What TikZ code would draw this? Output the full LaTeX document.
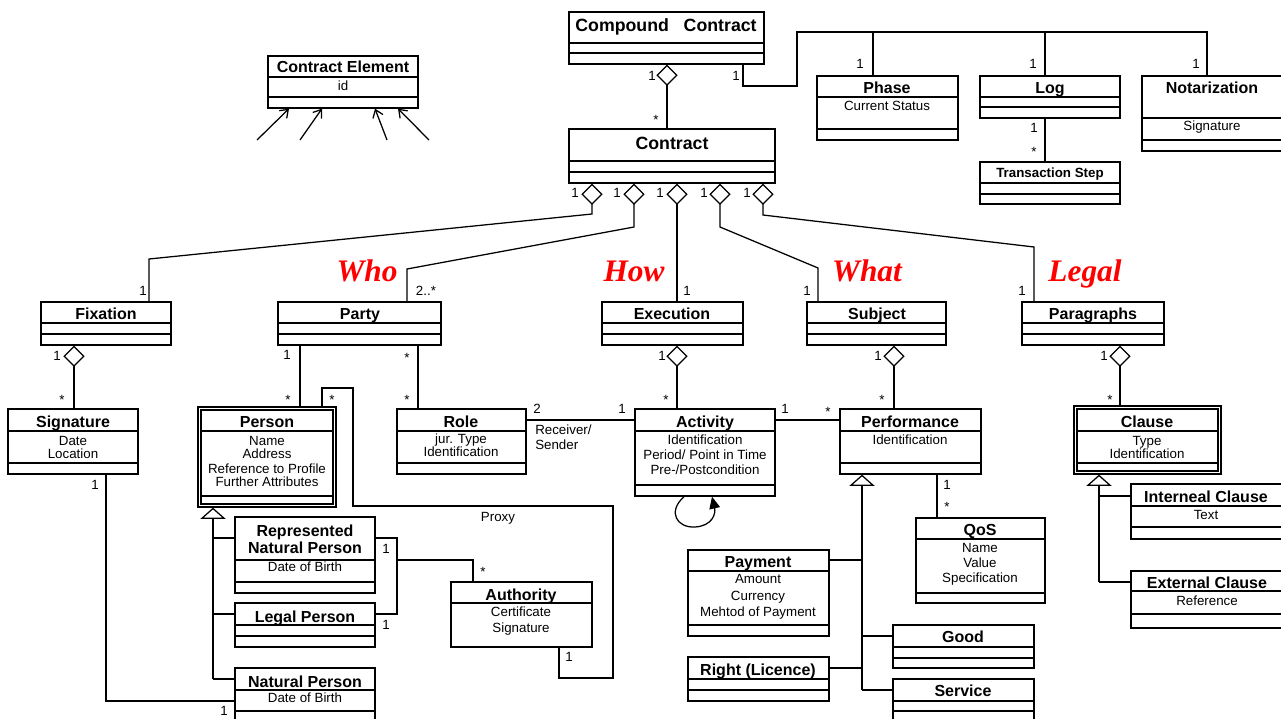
\documentclass[tikz,border=0pt]{standalone}
\usepackage{fontspec}
\setmainfont{Liberation Sans}
\newfontfamily\tms{Liberation Serif}
\usetikzlibrary{fit,arrows.meta}
\tikzset{
  ln/.style={line width=0.95pt},
  box/.style={draw, line width=0.95pt, inner sep=0pt},
  ttl/.style={font=\fontsize{12}{14}\selectfont\bfseries, anchor=base, yshift=-4.3pt, inner sep=0pt},
  bigttl/.style={font=\fontsize{13.3}{15}\selectfont\bfseries, anchor=base, yshift=-4.8pt, inner sep=0pt},
  smttl/.style={font=\fontsize{10}{12}\selectfont\bfseries, anchor=base, yshift=-3.6pt, inner sep=0pt},
  att/.style={font=\fontsize{10}{12}\selectfont, anchor=base, yshift=-3.6pt, inner sep=0pt},
  st/.style={font=\fontsize{10}{12}\selectfont, anchor=base, yshift=-5.8pt, inner sep=0pt},
  red/.style={font=\fontsize{23.5}{26}\selectfont\tms\bfseries\itshape, text=red, anchor=base, inner sep=0pt},
  agg/.style={ln, {Diamond[open, length=16pt, width=16pt]}-},
  gen/.style={ln, -{Triangle[open, length=8.5pt, width=19pt]}},
  dep/.style={ln, -{Straight Barb[length=5.5pt, width=8pt]}},
  loopar/.style={ln, -{Triangle[length=9pt, width=8pt]}}
}
\newcommand\klass[6]{%
  \node[box, fit={(#2,#3) (#4,#5)}] (#1) {};
  \foreach \dv in {#6}{\draw[ln] (#2,\dv) -- (#4,\dv);}}
\begin{document}
\begin{tikzpicture}[x=0.75pt, y=-0.75pt]
\useasboundingbox (0,0) rectangle (1281,718);
\fill[white] (0,0) rectangle (1281,718);
\clip (0,0) rectangle (1281,718);

% ---------- boxes ----------
\klass{cc}{569}{12}{764}{64}{43,53}
\node[bigttl] at (666,25) {Compound\ \ \ Contract};

\klass{ce}{268}{56}{418}{108}{77,97}
\node[ttl] at (343,67) {Contract Element};
\node[att] at (343,86) {id};

\klass{con}{569}{129}{775}{183}{161,172}
\node[bigttl] at (672,143) {Contract};

\klass{phase}{817}{76}{958}{140}{97,129}
\node[ttl] at (887,88) {Phase};
\node[att] at (887,106) {Current Status};

\klass{log}{980}{76}{1120}{118}{97,107}
\node[ttl] at (1050,88) {Log};

\klass{nota}{1142}{76}{1284}{151}{118,140}
\node[ttl] at (1212,88) {Notarization};
\node[att] at (1212,126) {Signature};

\klass{ts}{980}{162}{1120}{204}{183,194}
\node[smttl] at (1050,173) {Transaction Step};

\klass{fix}{41}{302}{171}{345}{323,334}
\node[ttl] at (106,314) {Fixation};
\klass{party}{278}{302}{441}{345}{323,334}
\node[ttl] at (360,314) {Party};
\klass{exec}{602}{302}{743}{345}{323,334}
\node[ttl] at (672,314) {Execution};
\klass{subj}{807}{302}{946}{345}{323,334}
\node[ttl] at (877,314) {Subject};
\klass{para}{1022}{302}{1164}{345}{323,334}
\node[ttl] at (1093,314) {Paragraphs};

\klass{sig}{8}{409}{138}{474}{431,463}
\node[ttl] at (73,422) {Signature};
\node[att] at (73,441) {Date};
\node[att] at (73,454) {Location};

\node[box, fit={(198,407) (336,507)}] (person) {};
\draw[ln] (201,410) rectangle (333,504);
\draw[ln] (201,431) -- (333,431);
\draw[ln] (201,496) -- (333,496);
\node[ttl] at (267,422) {Person};
\node[att] at (267,441) {Name};
\node[att] at (267,454) {Address};
\node[att] at (267,469) {Reference to Profile};
\node[att] at (267,482) {Further Attributes};

\klass{role}{397}{409}{526}{474}{431,463}
\node[ttl] at (461,422) {Role};
\node[att] at (461,439) {jur. Type};
\node[att] at (461,452) {Identification};

\klass{act}{635}{409}{775}{496}{431,485}
\node[ttl] at (705,422) {Activity};
\node[att] at (705,440) {Identification};
\node[att] at (705,455) {Period/ Point in Time};
\node[att] at (705,470) {Pre-/Postcondition};

\klass{perf}{840}{409}{981}{474}{431,463}
\node[ttl] at (910,422) {Performance};
\node[att] at (910,440) {Identification};

\node[box, fit={(1074,406) (1221,474)}] (clause) {};
\draw[ln] (1077,409) rectangle (1218,471);
\draw[ln] (1077,431) -- (1218,431);
\draw[ln] (1077,463) -- (1218,463);
\node[ttl] at (1147,422) {Clause};
\node[att] at (1147,441) {Type};
\node[att] at (1147,454) {Identification};

\klass{intc}{1131}{484}{1284}{539}{506,527}
\node[ttl] at (1206,497) {Interneal Clause};
\node[att] at (1206,515) {Text};
\klass{extc}{1131}{571}{1284}{628}{591,614}
\node[ttl] at (1207,583) {External Clause};
\node[att] at (1207,601) {Reference};

\klass{rnp}{235}{517}{375}{593}{560,582}
\node[ttl] at (305,531) {Represented};
\node[ttl] at (305,548) {Natural Person};
\node[att] at (305,567) {Date of Birth};
\klass{lp}{235}{603}{375}{647}{625,636}
\node[ttl] at (305,617) {Legal Person};
\klass{np}{235}{668}{375}{728}{690,711}
\node[ttl] at (305,682) {Natural Person};
\node[att] at (305,698) {Date of Birth};

\klass{auth}{451}{582}{592}{647}{603}
\node[ttl] at (521,595) {Authority};
\node[att] at (521,612) {Certificate};
\node[att] at (521,628) {Signature};

\klass{qos}{916}{518}{1045}{603}{539,593}
\node[ttl] at (980,530) {QoS};
\node[att] at (980,548) {Name};
\node[att] at (980,563) {Value};
\node[att] at (980,578) {Specification};

\klass{pay}{688}{550}{829}{636}{571,625}
\node[ttl] at (758,562) {Payment};
\node[att] at (758,579) {Amount};
\node[att] at (758,596) {Currency};
\node[att] at (758,612) {Mehtod of Payment};

\klass{good}{893}{625}{1034}{668}{647,658}
\node[ttl] at (963,637) {Good};
\klass{right}{688}{657}{829}{701}{679,690}
\node[ttl] at (758,670) {Right (Licence)};
\klass{serv}{893}{679}{1034}{728}{701,711}
\node[ttl] at (963,691) {Service};

% ---------- red labels ----------
\node[red] (who) at (367,281) {Who};
\node[red] (how) at (634,281) {How};
\node[red] (what) at (867,281) {What};
\node[red] (legal) at (1085,281) {Legal};

% ---------- connectors ----------
% Contract Element dependencies
\draw[dep] (257,140) -- (ce.south -| 289,0);
\draw[dep] (300,140) -- (ce.south -| 322,0);
\draw[dep] (387,140) -- (ce.south -| 375,0);
\draw[dep] (429,140) -- (ce.south -| 398,0);

% Compound contract
\draw[agg] (cc.south -| 667,0) -- (con.north -| 667,0);
\node[att] at (652,76) {1};
\node[st] at (656,117) {*};
\draw[ln] (cc.south -| 743,0) -- (743,86) -- (797,86) -- (797,32) -- (1207,32) -- (nota.north -| 1207,0);
\draw[ln] (873,32) -- (phase.north -| 873,0);
\draw[ln] (1045,32) -- (log.north -| 1045,0);
\node[att] at (736,76) {1};
\node[att] at (860,64) {1};
\node[att] at (1033,64) {1};
\node[att] at (1196,64) {1};
\draw[ln] (log.south -| 1045,0) -- (ts.north -| 1045,0);
\node[att] at (1034,128) {1};
\node[st] at (1034,149) {*};

% Contract aggregations
\draw[agg] (con.south -| 592,0) -- (592,214) -- (149,259) -- (fix.north -| 149,0);
\draw[agg] (con.south -| 634,0) -- (634,227) -- (407,269) -- (party.north -| 407,0);
\draw[agg] (con.south -| 677,0) -- (exec.north -| 677,0);
\draw[agg] (con.south -| 720,0) -- (720,227) -- (818,268) -- (subj.north -| 818,0);
\draw[agg] (con.south -| 763,0) -- (763,215) -- (1034,247) -- (para.north -| 1034,0);
\node[att] at (575,193) {1};
\node[att] at (617,193) {1};
\node[att] at (660,193) {1};
\node[att] at (704,193) {1};
\node[att] at (747,193) {1};
\node[att] at (143,291) {1};
\node[att] at (426,291) {2..*};
\node[att] at (687,291) {1};
\node[att] at (807,291) {1};
\node[att] at (1022,291) {1};

% second level aggregations
\draw[agg] (fix.south -| 74,0) -- (sig.north -| 74,0);
\node[att] at (57,356) {1};
\node[st] at (62,397) {*};
\draw[agg] (exec.south -| 677,0) -- (act.north -| 677,0);
\node[att] at (662,356) {1};
\node[st] at (666,397) {*};
\draw[agg] (subj.south -| 894,0) -- (perf.north -| 894,0);
\node[att] at (878,356) {1};
\node[st] at (882,397) {*};
\draw[agg] (para.south -| 1120,0) -- (clause.north -| 1120,0);
\node[att] at (1104,356) {1};
\node[st] at (1110,397) {*};

% Party
\draw[ln] (party.south -| 300,0) -- (person.north -| 300,0);
\node[att] at (287,355) {1};
\node[st] at (288,397) {*};
\draw[ln] (party.south -| 418,0) -- (role.north -| 418,0);
\node[st] at (407,355) {*};
\node[st] at (407,397) {*};

% Role - Activity - Performance
\draw[ln] (role.east |- 0,420) -- (act.west |- 0,420);
\node[att] at (537,409) {2};
\node[att] at (622,409) {1};
\node[att, anchor=base west] at (535,430) {Receiver/};
\node[att, anchor=base west] at (535,445) {Sender};
\draw[ln] (act.east |- 0,420) -- (perf.west |- 0,420);
\node[att] at (785,409) {1};
\node[st] at (828,409) {*};

% Activity self loop
\draw[loopar] (act.south -| 684,0) .. controls (667,512) and (677,528) .. (695,527) .. controls (712,526) and (716,514) .. (act.south -| 712,0);

% Performance - QoS
\draw[ln] (perf.south -| 937,0) -- (qos.north -| 937,0);
\node[att] at (947,485) {1};
\node[st] at (947,504) {*};

% Performance generalization
\draw[gen] (862,690) -- (perf.south -| 862,0);
\draw[ln] (862,560) -- (pay.east |- 0,560);
\draw[ln] (862,636) -- (good.west |- 0,636);
\draw[ln] (862,668) -- (right.east |- 0,668);
\draw[ln] (862,690) -- (serv.west |- 0,690);

% Clause generalization
\draw[gen] (1099,582) -- (clause.south -| 1099,0);
\draw[ln] (1099,496) -- (intc.west |- 0,496);
\draw[ln] (1099,582) -- (extc.west |- 0,582);

% Person generalization
\draw[gen] (213,679) -- (person.south -| 213,0);
\draw[ln] (213,538) -- (rnp.west |- 0,538);
\draw[ln] (213,614) -- (lp.west |- 0,614);
\draw[ln] (213,679) -- (np.west |- 0,679);

% Represented / Legal - Authority
\draw[ln] (rnp.east |- 0,538) -- (397,538) -- (397,614) -- (lp.east |- 0,614);
\draw[ln] (397,560) -- (473,560) -- (auth.north -| 473,0);
\node[att] at (386,549) {1};
\node[att] at (386,625) {1};
\node[st] at (483,569) {*};

% Proxy
\draw[ln] (person.north -| 322,0) -- (322,388) -- (353,388) -- (353,506) -- (613,506) -- (613,678) -- (559,678) -- (auth.south -| 559,0);
\node[st] at (332,397) {*};
\node[att] at (498,517) {Proxy};
\node[att] at (569,657) {1};

% Signature - Natural Person
\draw[ln] (sig.south -| 106,0) -- (106,701) -- (np.west |- 0,701);
\node[att] at (95,485) {1};
\node[att] at (224,711) {1};
\end{tikzpicture}
\end{document}
